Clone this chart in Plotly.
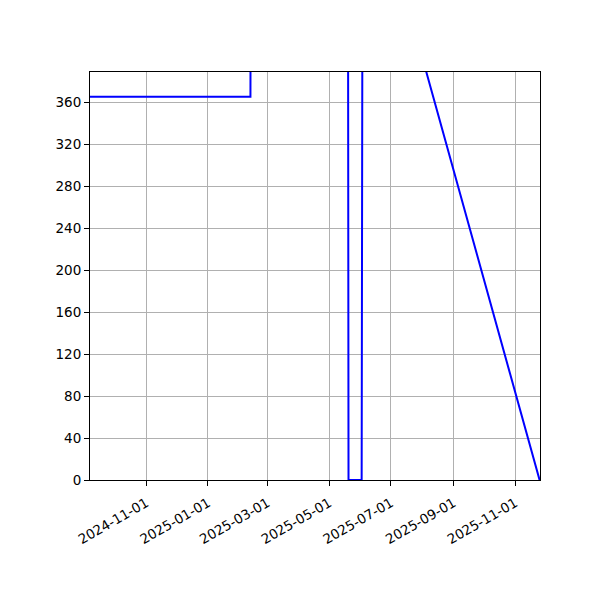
import plotly.graph_objects as go

dates = ["2024-09-06", "2025-02-12", "2025-02-13", "2025-05-19", "2025-05-20",
         "2025-06-02", "2025-06-03", "2025-11-25"]
values = [365, 365, 1000, 1000, 0, 0, 607, 0]

x_ticks = ["2024-11-01", "2025-01-01", "2025-03-01", "2025-05-01",
           "2025-07-01", "2025-09-01", "2025-11-01"]
y_ticks = [0, 40, 80, 120, 160, 200, 240, 280, 320, 360]

fig = go.Figure()
fig.add_trace(go.Scatter(x=dates, y=values, mode="lines",
                         line=dict(color="#0000ff", width=2),
                         showlegend=False))

font = dict(family="DejaVu Sans", size=13.5, color="black")
fig.update_layout(
    width=600, height=600,
    margin=dict(l=82, r=68, t=64, b=128, pad=0),
    paper_bgcolor="white", plot_bgcolor="white",
    font=font,
)
fig.update_xaxes(
    type="date",
    range=["2024-09-06 07:00", "2025-11-25 10:00"],
    tickvals=x_ticks, ticktext=x_ticks,
    tickangle=-30,
    ticklabelstandoff=4,
    showgrid=True, gridcolor="#b0b0b0", gridwidth=1.1,
    showline=True, linecolor="black", linewidth=1.1, mirror=True,
    ticks="outside", ticklen=5, tickwidth=1.1, tickcolor="black",
    zeroline=False, tickfont=font,
)
fig.update_yaxes(
    range=[0, 388.6],
    tickvals=y_ticks,
    showgrid=True, gridcolor="#b0b0b0", gridwidth=1.1,
    showline=True, linecolor="black", linewidth=1.1, mirror=True,
    ticks="outside", ticklen=5, tickwidth=1.1, tickcolor="black",
    zeroline=False, tickfont=font,
)
fig.write_html("out.html")
